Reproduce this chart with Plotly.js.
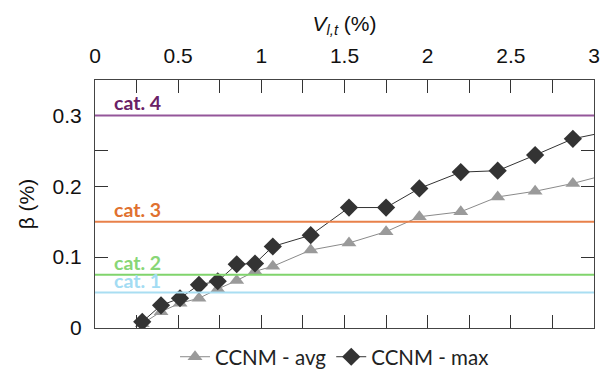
<!DOCTYPE html>
<html>
<head>
<meta charset="utf-8">
<script src="https://cdn.plot.ly/plotly-3.0.1.min.js"></script>
<style>html,body{margin:0;padding:0;background:#fff;}#chart{width:607px;height:371px;}</style>
</head>
<body>
<div id="chart"></div>
<script>
// Data
const vlt = [0.284, 0.397, 0.511, 0.625, 0.738, 0.852, 0.962, 1.069, 1.297, 1.527, 1.750, 1.950, 2.199, 2.421, 2.646, 2.873, 3.10];
const betaAvg = [0.006, 0.023, 0.035, 0.042, 0.055, 0.067, 0.080, 0.087, 0.110, 0.120, 0.136, 0.157, 0.164, 0.185, 0.193, 0.204, 0.218];
const betaMax = [0.0087, 0.032, 0.042, 0.061, 0.066, 0.090, 0.091, 0.115, 0.131, 0.170, 0.170, 0.197, 0.220, 0.222, 0.244, 0.267, 0.278];
const seriesNames = ["CCNM - avg", "CCNM - max"];
const catLabels = ["cat. 1", "cat. 2", "cat. 3", "cat. 4"];
const catValues = [0.05, 0.075, 0.15, 0.30];
const catLineColors = ["#a9def2", "#80d46c", "#e8814a", "#94569a"];
const catTextColors = ["#a3dcf3", "#88d676", "#e0712f", "#6a2166"];

const traces = [
  {x: vlt, y: betaAvg, name: seriesNames[0], mode: "lines+markers",
   line: {color: "#8a8a8a", width: 1},
   marker: {symbol: "triangle-up", size: 13, color: "#9a9a9a"}},
  {x: vlt, y: betaMax, name: seriesNames[1], mode: "lines+markers",
   line: {color: "#333333", width: 1},
   marker: {symbol: "diamond", size: 14, color: "#333333"}}
];

const shapes = catValues.map((v, i) => ({
  type: "line", xref: "paper", x0: 0, x1: 1, yref: "y", y0: v, y1: v,
  line: {color: catLineColors[i], width: 2}, layer: "above"
}));

const annotations = catValues.map((v, i) => ({
  xref: "paper", x: 0.035, yref: "y", y: v, xanchor: "left", yanchor: "bottom",
  text: "<b>" + catLabels[i] + "</b>", showarrow: false, yshift: -1,
  font: {family: "Lato, 'Open Sans', sans-serif", size: 19.5, color: catTextColors[i]}
}));

const tickFont = {family: "'Liberation Sans', Arial, sans-serif", size: 21, color: "#111"};
const titleFont = {family: "'Liberation Sans', Arial, sans-serif", size: 21, color: "#111"};

const layout = {
  width: 607, height: 371,
  margin: {l: 95, r: 13, t: 80, b: 42.5},
  paper_bgcolor: "#fff", plot_bgcolor: "#fff",
  showlegend: true,
  legend: {orientation: "h", xref: "paper", x: 0.48, xanchor: "center",
           yref: "container", y: 0.038, yanchor: "middle",
           font: {family: "Lato, 'Open Sans', sans-serif", size: 20.5, color: "#222"},
           itemwidth: 30, traceorder: "normal"},
  xaxis: {
    range: [0, 3], side: "top", dtick: 0.5, tick0: 0, automargin: false,
    ticks: "inside", ticklen: 13, tickcolor: "#333", tickwidth: 1,
    minor: {dtick: 0.25, tick0: 0, ticks: "inside", ticklen: 13, tickcolor: "#333"},
    showline: true, linecolor: "#444", linewidth: 1, mirror: "ticks",
    showgrid: false, zeroline: false,
    tickfont: tickFont, ticklabelstandoff: 8,
    title: {text: "<i>V</i><sub><i>l,t</i></sub> (%)", standoff: 6, font: titleFont}
  },
  yaxis: {
    range: [0, 0.35], dtick: 0.1, tick0: 0, automargin: false,
    ticks: "inside", ticklen: 13, tickcolor: "#333", tickwidth: 1,
    minor: {dtick: 0.05, tick0: 0, ticks: "inside", ticklen: 13, tickcolor: "#333"},
    showline: true, linecolor: "#444", linewidth: 1, mirror: "ticks",
    showgrid: false, zeroline: false,
    tickfont: tickFont, ticklabelstandoff: 8,
    title: {text: "β (%)", standoff: 12, font: titleFont}
  },
  shapes: shapes,
  annotations: annotations
};

Plotly.newPlot("chart", traces, layout, {displayModeBar: false, staticPlot: true});
</script>
</body>
</html>
